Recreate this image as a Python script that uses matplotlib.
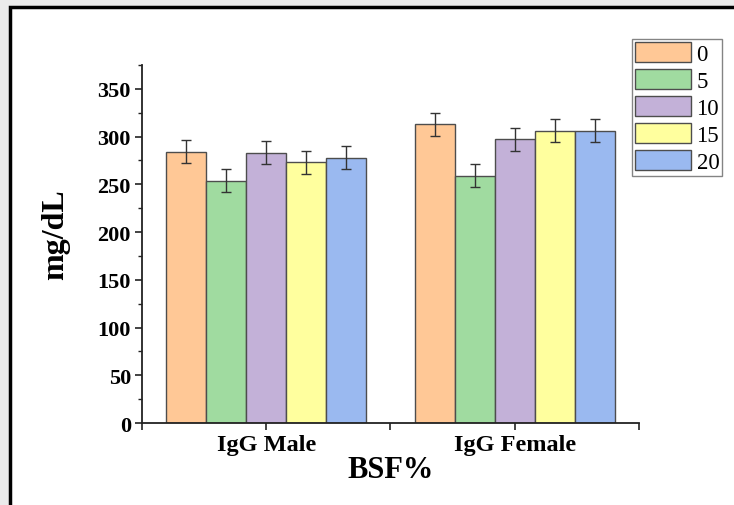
import numpy as np
import matplotlib.pyplot as plt
from matplotlib.patches import Rectangle

groups = ["IgG Male", "IgG Female"]
doses = ["0", "5", "10", "15", "20"]
values = {
    "0": [284, 313],
    "5": [254, 259],
    "10": [283, 297],
    "15": [273, 306],
    "20": [278, 306],
}
errors = {
    "0": [12, 12],
    "5": [12, 12],
    "10": [12, 12],
    "15": [12, 12],
    "20": [12, 12],
}
colors = ["#FFC896", "#A0DBA0", "#C3B1D8", "#FFFF9E", "#9AB9F0"]

plt.rcParams["font.family"] = ["Liberation Serif", "DejaVu Serif"]

fig = plt.figure(figsize=(7.34, 5.06), dpi=100, facecolor="#ebebeb")
# white panel with black frame
fig.patches.append(Rectangle((10 / 734, -0.1), 1.2, 1.1 - 8 / 506, transform=fig.transFigure,
                             facecolor="white", edgecolor="black", linewidth=2.5, zorder=-5))

ax = fig.add_axes([142 / 734, 1 - 424 / 506, (639 - 142) / 734, (424 - 66) / 506])
ax.set_facecolor("none")
ax.set_zorder(2)

x = np.arange(1, len(groups) + 1)
w = 0.161
for i, d in enumerate(doses):
    pos = x + (i - 2) * w
    ax.bar(pos, values[d], width=w, color=colors[i], edgecolor="#4d4d4d", linewidth=1.0,
           label=d, zorder=2)
    ax.errorbar(pos, values[d], yerr=errors[d], fmt="none", ecolor="#333333",
                elinewidth=1.0, capsize=3.5, capthick=1.0, zorder=3)

ax.set_xlim(0.5, 2.5)
ax.set_ylim(0, 375)
ax.set_yticks(np.arange(0, 351, 50))
ax.set_yticks(np.arange(25, 376, 50), minor=True)
ax.set_xticks(x)
ax.set_xticks([0.5, 1.5, 2.5], minor=True)
ax.set_xticklabels(groups, fontsize=17.5, fontweight="bold")
for lab in ax.get_yticklabels():
    lab.set_fontsize(16)
    lab.set_fontweight("bold")

for s in ["top", "right"]:
    ax.spines[s].set_visible(False)
for s in ["left", "bottom"]:
    ax.spines[s].set_linewidth(1.3)
    ax.spines[s].set_color("#222222")
ax.tick_params(axis="both", which="major", length=5, width=1.2, color="#222222", pad=3)
ax.tick_params(axis="y", which="minor", length=3, width=1.0, color="#222222")
ax.tick_params(axis="x", which="minor", length=5, width=1.2, color="#222222")

ax.set_ylabel("mg/dL", fontsize=23, fontweight="bold")
ax.yaxis.set_label_coords(-0.145, 0.528)
ax.set_xlabel("BSF%", fontsize=22, fontweight="bold", labelpad=0)

leg = fig.legend(loc="upper right", bbox_to_anchor=(722 / 734, 1 - 40 / 506), fontsize=16.5,
                 handlelength=2.45, handleheight=1.0, labelspacing=0.17, handletextpad=0.25,
                 borderpad=0.12, borderaxespad=0, frameon=True, fancybox=False)
leg.get_frame().set_edgecolor("#666666")
leg.get_frame().set_linewidth(1.0)
for p in leg.get_patches():
    p.set_edgecolor("#4d4d4d")

fig.savefig("out.png", dpi=100, facecolor=fig.get_facecolor())
